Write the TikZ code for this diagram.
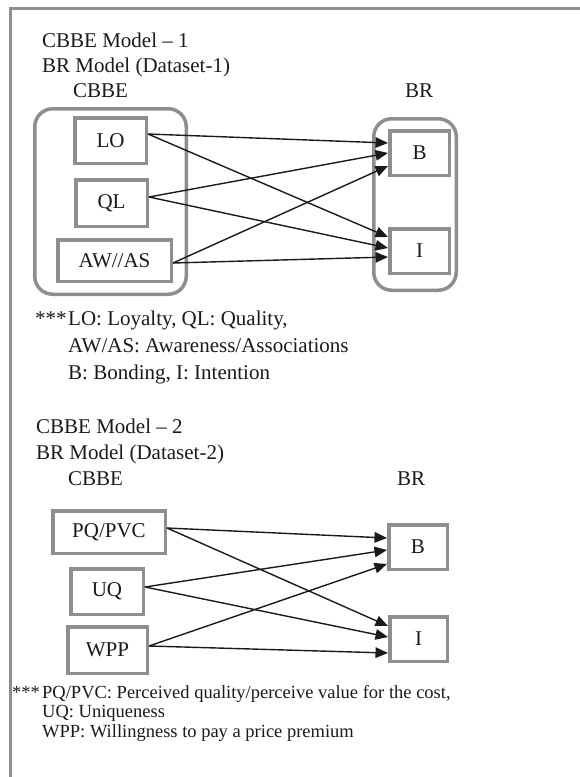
\documentclass[tikz,border=0pt]{standalone}
\usepackage{fontspec}
\setmainfont{Liberation Serif}
\usetikzlibrary{arrows.meta}
\definecolor{boxgray}{HTML}{8E8E8E}
\definecolor{ink}{HTML}{1A1A1A}
\begin{document}
\begin{tikzpicture}[x=1pt,y=-1pt,
  every node/.style={text=ink},
  txt/.style={anchor=base west, inner sep=0pt, font=\fontsize{21}{25}\selectfont},
  note/.style={anchor=base west, inner sep=0pt, font=\fontsize{18.5}{20}\selectfont},
  vbox/.style={draw=boxgray, line width=3.5pt, fill=white, inner sep=0pt, font=\fontsize{21}{25}\selectfont},
  grp/.style={draw=boxgray, line width=3.5pt, rounded corners=18pt, inner sep=0pt},
  arr/.style={draw=ink, line width=1.4pt, -{Triangle[length=12.5pt,width=10.5pt]}},
]
\useasboundingbox (0,0) rectangle (580,777);
\draw[boxgray, line width=3pt] (10,777) -- (10,8) -- (580,8);

% ---------- Model 1 ----------
\node[txt] (t1a) at (42,47) {CBBE Model – 1};
\node[txt] (t1b) at (42,72) {BR Model (Dataset-1)};
\node[txt] (t1c) at (73,97) {CBBE};
\node[txt] (t1d) at (405,97) {BR};

\node[grp, minimum width=151.5pt, minimum height=185.5pt] (g1) at (110.5,201.5) {};
\node[grp, minimum width=82.5pt, minimum height=171.5pt] (g2) at (415,204.5) {};

\node[vbox, minimum width=71.5pt, minimum height=45.5pt] (LO) at (110.5,140.5) {LO};
\node[vbox, minimum width=71.5pt, minimum height=46.5pt] (QL) at (111.5,203) {QL};
\node[vbox, minimum width=113.5pt, minimum height=41.5pt] (AW) at (114.5,260.5) {AW//AS};
\node[vbox, minimum width=59.5pt, minimum height=44.5pt] (B1) at (419.5,153) {B};
\node[vbox, minimum width=59.5pt, minimum height=44.5pt] (I1) at (419.5,251) {I};

\draw[arr] ([yshift=6.5pt]LO.east) -- ([yshift=10pt]B1.west);
\draw[arr] ([yshift=6.5pt]LO.east) -- ([yshift=14pt]I1.west);
\draw[arr] ([yshift=6pt]QL.east) -- ([yshift=0pt]B1.west);
\draw[arr] ([yshift=6pt]QL.east) -- ([yshift=3pt]I1.west);
\draw[arr] ([yshift=-2.5pt]AW.east) -- ([yshift=-13pt]B1.west);
\draw[arr] ([yshift=-2.5pt]AW.east) -- ([yshift=-6pt]I1.west);

\node[txt] (s1) at (35,325) {***};
\node[txt] (n1a) at (68,325) {LO: Loyalty, QL: Quality,};
\node[txt] (n1b) at (68,352) {AW/AS: Awareness/Associations};
\node[txt] (n1c) at (68,379) {B: Bonding, I: Intention};

% ---------- Model 2 ----------
\node[txt] (t2a) at (36,433) {CBBE Model – 2};
\node[txt] (t2b) at (36,459) {BR Model (Dataset-2)};
\node[txt] (t2c) at (68,485) {CBBE};
\node[txt] (t2d) at (397,485) {BR};

\node[vbox, minimum width=112.5pt, minimum height=42.5pt] (PQ) at (109,532) {PQ/PVC};
\node[vbox, minimum width=72.5pt, minimum height=45.5pt] (UQ) at (107,591.5) {UQ};
\node[vbox, minimum width=79.5pt, minimum height=46.5pt] (WPP) at (107.5,650) {WPP};
\node[vbox, minimum width=58.5pt, minimum height=44.5pt] (B2) at (418,547) {B};
\node[vbox, minimum width=57.5pt, minimum height=44.5pt] (I2) at (418.5,639) {I};

\draw[arr] ([yshift=4pt]PQ.east) -- ([yshift=9pt]B2.west);
\draw[arr] ([yshift=4pt]PQ.east) -- ([yshift=13pt]I2.west);
\draw[arr] ([yshift=4.5pt]UQ.east) -- ([yshift=-3pt]B2.west);
\draw[arr] ([yshift=4.5pt]UQ.east) -- ([yshift=2pt]I2.west);
\draw[arr] ([yshift=4pt]WPP.east) -- ([yshift=-17pt]B2.west);
\draw[arr] ([yshift=4pt]WPP.east) -- ([yshift=-14pt]I2.west);

\node[note] (s2) at (12,698) {***};
\node[note] (n2a) at (42,698) {PQ/PVC: Perceived quality/perceive value for the cost,};
\node[note] (n2b) at (42,717) {UQ: Uniqueness};
\node[note] (n2c) at (42,737) {WPP: Willingness to pay a price premium};
\end{tikzpicture}
\end{document}
